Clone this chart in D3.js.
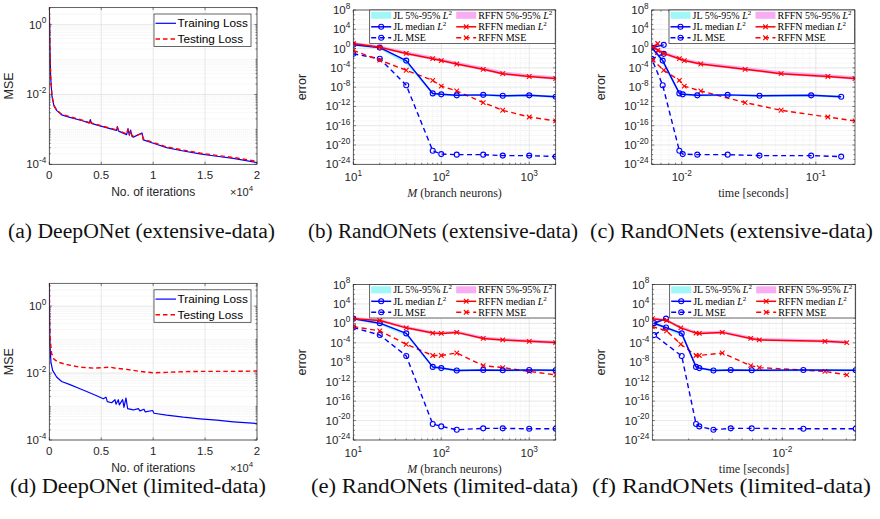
<!DOCTYPE html>
<html>
<head>
<meta charset="UTF-8">
<title>DeepONet vs RandONets</title>
<style>
  body { margin: 0; background: #fff; }
  text { font-family: "Liberation Sans", Arial, sans-serif; }
</style>
</head>
<body>
<script src="https://cdn.jsdelivr.net/npm/d3@7/dist/d3.min.js"></script>
<script>

// ---------- data ----------

// DeepONet loss curves (iterations, MSE)
var iterA = [0, 64, 128, 257, 449, 706, 1188, 1990, 3274, 3852, 3949, 4045, 4880, 5843, 6485, 6549, 6677, 7448, 7576, 7705, 7833, 7961, 8090, 8925, 9053, 10016, 11300, 12905, 14510, 16116, 17721, 20032];
var trainA = [3.0, 0.2, 0.032, 8.9e-3, 4.7e-3, 3.5e-3, 2.6e-3, 2.2e-3, 1.74e-3, 1.51e-3, 1.9e-3, 1.48e-3, 1.26e-3, 1.05e-3, 9.3e-4, 1.2e-3, 8.9e-4, 7.1e-4, 1.05e-3, 6.8e-4, 9.5e-4, 6.3e-4, 6.0e-4, 7.9e-4, 5.0e-4, 4.0e-4, 3.0e-4, 2.4e-4, 2.0e-4, 1.7e-4, 1.48e-4, 1.12e-4];
var testA = [3.0, 0.21, 0.034, 9.3e-3, 4.9e-3, 3.6e-3, 2.7e-3, 2.3e-3, 1.8e-3, 1.56e-3, 1.85e-3, 1.53e-3, 1.3e-3, 1.09e-3, 9.7e-4, 1.15e-3, 9.3e-4, 7.4e-4, 1.0e-3, 7.1e-4, 9.1e-4, 6.6e-4, 6.3e-4, 7.6e-4, 5.3e-4, 4.2e-4, 3.15e-4, 2.55e-4, 2.1e-4, 1.8e-4, 1.57e-4, 1.2e-4];

var iterDTrain = [0, 32, 64, 160, 321, 706, 1188, 1990, 2953, 3596, 4559, 5201, 5457, 5586, 6003, 6324, 6421, 6645, 6742, 7063, 7191, 7384, 7544, 8090, 8571, 8732, 9117, 9246, 9952, 10080, 11300, 12905, 14510, 16116, 17721, 20032];
var trainD = [4.7, 0.33, 0.068, 0.021, 0.012, 7.6e-3, 5.6e-3, 4.5e-3, 3.4e-3, 2.8e-3, 2.1e-3, 1.7e-3, 1.9e-3, 1.4e-3, 1.3e-3, 1.6e-3, 1.17e-3, 1.6e-3, 1.12e-3, 1.6e-3, 9.5e-4, 1.8e-3, 8.7e-4, 7.9e-4, 8.7e-4, 7.4e-4, 8.3e-4, 6.9e-4, 7.6e-4, 6.3e-4, 5.5e-4, 4.8e-4, 4.3e-4, 3.9e-4, 3.5e-4, 3.1e-4];
var iterDTest = [0, 32, 96, 224, 449, 867, 1669, 2953, 4238, 5201, 5843, 6485, 7448, 8732, 10016, 11300, 12905, 14510, 17721, 20032];
var testD = [4.7, 0.33, 0.095, 0.038, 0.026, 0.021, 0.018, 0.015, 0.014, 0.0145, 0.015, 0.0138, 0.0129, 0.0112, 0.0102, 0.0105, 0.011, 0.0112, 0.0112, 0.0115];

// RandONets: number of branch neurons
var mNeurons = [10, 20, 40, 80, 100, 150, 300, 500, 1000, 2000];

// extensive-data errors
var extJLMedian = [5.9, 1.6, 3.2e-3, 5e-10, 3.2e-10, 2e-10, 2.5e-10, 1.6e-10, 2e-10, 1e-10];
var extJLLow    = [3.5, 0.7, 6e-4, 2.5e-10, 1.8e-10, 1.1e-10, 1.4e-10, 9e-11, 1.1e-10, 5.5e-11];
var extJLHigh   = [8, 2.4, 5e-3, 8e-10, 5e-10, 3.3e-10, 4e-10, 2.8e-10, 3.4e-10, 1.8e-10];
var extJLMse    = [0.08, 8e-3, 2.5e-8, 6.3e-22, 1.3e-22, 1e-22, 1e-22, 6.3e-23, 6.3e-23, 4e-23];
var extRFMedian = [11, 1.9, 0.1, 8e-3, 3.2e-3, 6.3e-4, 5e-5, 6.3e-6, 1.6e-6, 6.3e-7];
var extRFLow    = [6, 1.1, 0.055, 4.5e-3, 1.8e-3, 3.5e-4, 2.8e-5, 3.5e-6, 9e-7, 3.5e-7];
var extRFHigh   = [24, 4.5, 0.28, 2.2e-2, 9e-3, 1.8e-3, 1.5e-4, 1.9e-5, 4.8e-6, 1.9e-6];
var extRFMse    = [0.4, 4e-3, 3.2e-5, 2.5e-7, 1.6e-8, 1.6e-9, 6.3e-12, 1.6e-13, 6.3e-15, 1e-15];
var extJLTime   = [0.00734, 0.00597, 0.00721, 0.0096, 0.01017, 0.01306, 0.0220, 0.0380, 0.0923, 0.1546];
var extRFTime   = [0.00662, 0.00611, 0.00734, 0.0096, 0.01045, 0.01387, 0.0297, 0.0551, 0.123, 0.196];

// limited-data errors
var limJLMedian = [9.3, 1.1, 8.7e-3, 1.1e-9, 6.3e-10, 2e-10, 2.5e-10, 2.2e-10, 2.5e-10, 2.2e-10];
var limJLLow    = [5.5, 0.5, 2.5e-3, 5e-10, 3.5e-10, 1.1e-10, 1.4e-10, 1.2e-10, 1.4e-10, 1.2e-10];
var limJLHigh   = [13, 2.2, 1.4e-2, 1.8e-9, 1e-9, 3.5e-10, 4e-10, 3.8e-10, 4e-10, 3.8e-10];
var limJLMse    = [0.14, 4e-3, 2e-7, 2e-21, 6.3e-22, 1.3e-22, 2.5e-22, 2.5e-22, 2e-22, 2e-22];
var limRFMedian = [9.3, 4, 0.12, 0.01, 8.7e-3, 1.4e-2, 8e-4, 4e-4, 2e-4, 1.1e-4];
var limRFLow    = [5.5, 2.3, 0.07, 5.5e-3, 5e-3, 8e-3, 4.5e-4, 2.3e-4, 1.1e-4, 6e-5];
var limRFHigh   = [20, 8, 0.3, 2.4e-2, 2.1e-2, 3.4e-2, 1.9e-3, 9.5e-4, 4.8e-4, 2.6e-4];
var limRFMse    = [0.22, 0.028, 5e-5, 2.5e-7, 2.5e-7, 8e-7, 2e-9, 8e-10, 1.3e-10, 2.5e-11];
var limJLTime   = [0.001355, 0.001104, 0.001774, 0.00227, 0.0024, 0.00306, 0.00412, 0.00591, 0.01436, 0.0353];
var limRFTime   = [0.00107, 0.00137, 0.001746, 0.00227, 0.0024, 0.00356, 0.00581, 0.00673, 0.0208, 0.0303];

var lossTicksX = [0, 0.5, 1, 1.5, 2];
var lossTicksY = [-4, -2, 0];
var errTicksY = [-24, -20, -16, -12, -8, -4, 0, 4, 8];

var captions = [
  "(a)  DeepONet (extensive-data)", "(b)  RandONets (extensive-data)", "(c)  RandONets (extensive-data)",
  "(d)  DeepONet (limited-data)", "(e)  RandONets (limited-data)", "(f)  RandONets (limited-data)"
];

// ---------- drawing ----------

var svg = d3.select("body").append("svg")
  .attr("width", 880)
  .attr("height", 519);

var axisColor = "#262626";
var blue = "#0000ff", red = "#ff0000";
var clipId = 0;

function supText(g, x, y, base, exp, size, anchor, family) {
  var t = g.append("text")
    .attr("x", x).attr("y", y)
    .attr("font-size", size)
    .attr("text-anchor", anchor)
    .attr("fill", axisColor);
  if (family) t.style("font-family", family);
  t.append("tspan").text(base);
  t.append("tspan").attr("dy", -size * 0.45).attr("font-size", size * 0.72).text(exp);
  return t;
}

function logMinors(dom, majors) {
  var out = [];
  var lo = Math.floor(Math.log10(dom[0])), hi = Math.ceil(Math.log10(dom[1]));
  for (var e = lo; e <= hi; e++) {
    for (var k = 1; k <= 9; k++) {
      var v = k * Math.pow(10, e);
      if (v >= dom[0] * 0.9999 && v <= dom[1] * 1.0001 && majors.indexOf(v) < 0) out.push(v);
    }
  }
  return out;
}

function decadeMinors(dom, majorExps) {
  var out = [];
  for (var e = Math.ceil(Math.log10(dom[0])); e <= Math.floor(Math.log10(dom[1])); e++) {
    if (majorExps.indexOf(e) < 0) out.push(Math.pow(10, e));
  }
  return out;
}

function makeAxes(p) {
  var g = svg.append("g");
  var x = (p.xlog ? d3.scaleLog() : d3.scaleLinear()).domain(p.xdom).range([p.x0, p.x1]);
  var y = d3.scaleLog().domain(p.ydom).range([p.y1, p.y0]);

  g.append("rect").attr("x", p.x0).attr("y", p.y0)
    .attr("width", p.x1 - p.x0).attr("height", p.y1 - p.y0).attr("fill", "#fff");

  // minor grid
  p.yMinor.forEach(function(v) {
    g.append("line").attr("x1", p.x0).attr("x2", p.x1).attr("y1", y(v)).attr("y2", y(v))
      .attr("stroke", "#e4e4e4").attr("stroke-width", 0.6).attr("stroke-dasharray", "1,1");
  });
  p.xMinor.forEach(function(v) {
    g.append("line").attr("y1", p.y0).attr("y2", p.y1).attr("x1", x(v)).attr("x2", x(v))
      .attr("stroke", "#e4e4e4").attr("stroke-width", 0.6).attr("stroke-dasharray", "1,1");
  });
  // major grid
  p.yMajor.forEach(function(v) {
    g.append("line").attr("x1", p.x0).attr("x2", p.x1).attr("y1", y(v)).attr("y2", y(v))
      .attr("stroke", "#dcdcdc").attr("stroke-width", 0.7);
  });
  p.xMajor.forEach(function(v) {
    g.append("line").attr("y1", p.y0).attr("y2", p.y1).attr("x1", x(v)).attr("x2", x(v))
      .attr("stroke", "#dcdcdc").attr("stroke-width", 0.7);
  });

  clipId++;
  svg.append("clipPath").attr("id", "clip" + clipId).append("rect")
    .attr("x", p.x0).attr("y", p.y0).attr("width", p.x1 - p.x0).attr("height", p.y1 - p.y0);
  var plot = g.append("g").attr("clip-path", "url(#clip" + clipId + ")");

  var frame = g.append("g");
  function drawFrame() {
    // ticks on all four sides, pointing in
    var tk = frame.append("g").attr("stroke", axisColor).attr("stroke-width", 0.6);
    p.xMajor.forEach(function(v) {
      tk.append("line").attr("x1", x(v)).attr("x2", x(v)).attr("y1", p.y1).attr("y2", p.y1 - 2.6);
      tk.append("line").attr("x1", x(v)).attr("x2", x(v)).attr("y1", p.y0).attr("y2", p.y0 + 2.6);
    });
    p.xMinorTicks.forEach(function(v) {
      tk.append("line").attr("x1", x(v)).attr("x2", x(v)).attr("y1", p.y1).attr("y2", p.y1 - 1.5);
      tk.append("line").attr("x1", x(v)).attr("x2", x(v)).attr("y1", p.y0).attr("y2", p.y0 + 1.5);
    });
    p.yMajor.forEach(function(v) {
      tk.append("line").attr("y1", y(v)).attr("y2", y(v)).attr("x1", p.x0).attr("x2", p.x0 + 2.6);
      tk.append("line").attr("y1", y(v)).attr("y2", y(v)).attr("x1", p.x1).attr("x2", p.x1 - 2.6);
    });
    p.yMinorTicks.forEach(function(v) {
      tk.append("line").attr("y1", y(v)).attr("y2", y(v)).attr("x1", p.x0).attr("x2", p.x0 + 1.5);
      tk.append("line").attr("y1", y(v)).attr("y2", y(v)).attr("x1", p.x1).attr("x2", p.x1 - 1.5);
    });
    frame.append("rect").attr("x", p.x0).attr("y", p.y0)
      .attr("width", p.x1 - p.x0).attr("height", p.y1 - p.y0)
      .attr("fill", "none").attr("stroke", axisColor).attr("stroke-width", 0.7);

    // y tick labels
    p.yMajor.forEach(function(v) {
      supText(frame, p.x0 - 3, y(v) + 4, "10", String(Math.round(Math.log10(v))), 11.5, "end");
    });
  }
  return { g: g, plot: plot, frame: frame, x: x, y: y, drawFrame: drawFrame };
}

function line(ax, xs, ys, color, width, dash) {
  var pts = xs.map(function(d, i) { return [ax.x(d), ax.y(ys[i])]; });
  ax.plot.append("path")
    .attr("d", d3.line()(pts))
    .attr("fill", "none")
    .attr("stroke", color)
    .attr("stroke-width", width)
    .attr("stroke-linejoin", "round")
    .attr("stroke-dasharray", dash || null);
}

function band(ax, xs, lo, hi, color) {
  var area = d3.area()
    .x(function(d) { return ax.x(d.x); })
    .y0(function(d) { return ax.y(d.lo); })
    .y1(function(d) { return ax.y(d.hi); });
  var data = xs.map(function(d, i) { return { x: d, lo: lo[i], hi: hi[i] }; });
  ax.plot.append("path").attr("d", area(data)).attr("fill", color).attr("fill-opacity", 0.75);
}

function markers(ax, xs, ys, kind, color) {
  xs.forEach(function(d, i) {
    drawMarker(ax.plot, ax.x(d), ax.y(ys[i]), kind, color);
  });
}

function drawMarker(g, cx, cy, kind, color) {
  if (kind === "o") {
    g.append("circle").attr("cx", cx).attr("cy", cy).attr("r", 2.5)
      .attr("fill", "none").attr("stroke", color).attr("stroke-width", 1.1);
  } else {
    var s = 2.3;
    g.append("path")
      .attr("d", "M" + (cx - s) + "," + (cy - s) + "L" + (cx + s) + "," + (cy + s) +
                 "M" + (cx - s) + "," + (cy + s) + "L" + (cx + s) + "," + (cy - s))
      .attr("stroke", color).attr("stroke-width", 1.1);
  }
}

// ---------- DeepONet loss panels ----------

function lossPanel(opt) {
  var ydom = [1e-4, opt.ymax];
  var majors = lossTicksY.map(function(e) { return Math.pow(10, e); });
  var ax = makeAxes({
    x0: opt.x0, x1: opt.x1, y0: opt.y0, y1: opt.y1,
    xlog: false, xdom: [0, 20000], ydom: ydom,
    xMajor: lossTicksX.map(function(v) { return v * 1e4; }), xMinor: [], xMinorTicks: [],
    yMajor: majors, yMinor: logMinors(ydom, majors), yMinorTicks: logMinors(ydom, majors)
  });
  line(ax, opt.trainX, opt.train, blue, 1.2);
  line(ax, opt.testX, opt.test, red, 1.4, "4.5,3");
  ax.drawFrame();

  lossTicksX.forEach(function(v) {
    ax.frame.append("text").attr("x", ax.x(v * 1e4)).attr("y", opt.y1 + 15)
      .attr("text-anchor", "middle").attr("font-size", 11.5).attr("fill", axisColor).text(v);
  });
  ax.frame.append("text").attr("x", (opt.x0 + opt.x1) / 2).attr("y", opt.y1 + 32)
    .attr("text-anchor", "middle").attr("font-size", 12).attr("fill", axisColor).text("No. of iterations");
  supText(ax.frame, opt.x1 - 27, opt.y1 + 32, "\u00d710", "4", 11, "start");
  ax.frame.append("text")
    .attr("transform", "translate(" + (opt.x0 - 36) + "," + ((opt.y0 + opt.y1) / 2) + ") rotate(-90)")
    .attr("text-anchor", "middle").attr("font-size", 12.5).attr("fill", axisColor).text("MSE");

  // legend
  var lg = ax.frame.append("g");
  var lx = opt.x1 - 103, ly = opt.y0 + 6.5;
  lg.append("rect").attr("x", lx).attr("y", ly).attr("width", 97).attr("height", 32.5)
    .attr("fill", "#fff").attr("stroke", axisColor).attr("stroke-width", 0.7);
  lg.append("line").attr("x1", lx + 1.5).attr("x2", lx + 22).attr("y1", ly + 9.3).attr("y2", ly + 9.3)
    .attr("stroke", blue).attr("stroke-width", 1.2);
  lg.append("line").attr("x1", lx + 1.5).attr("x2", lx + 22).attr("y1", ly + 25).attr("y2", ly + 25)
    .attr("stroke", red).attr("stroke-width", 1.4).attr("stroke-dasharray", "4.5,3");
  lg.append("text").attr("x", lx + 23.5).attr("y", ly + 13.3).attr("font-size", 11.8).attr("fill", "#000").text("Training Loss");
  lg.append("text").attr("x", lx + 23.5).attr("y", ly + 29).attr("font-size", 11.8).attr("fill", "#000").text("Testing Loss");
}

// ---------- RandONets panels ----------

var cyanFill = "#80f4f4", magFill = "#f590ee";
var serif = "'Liberation Serif', 'DejaVu Serif', serif";

function errPanel(opt) {
  var ydom = [1e-24, 1e8];
  var yMaj = errTicksY.map(function(e) { return Math.pow(10, e); });
  var xMaj = opt.xTicks.map(function(e) { return Math.pow(10, e); });
  var ax = makeAxes({
    x0: opt.x0, x1: opt.x1, y0: opt.y0, y1: opt.y1,
    xlog: true, xdom: opt.xdom, ydom: ydom,
    xMajor: xMaj, xMinor: logMinors(opt.xdom, xMaj), xMinorTicks: logMinors(opt.xdom, xMaj),
    yMajor: yMaj, yMinor: decadeMinors(ydom, errTicksY), yMinorTicks: decadeMinors(ydom, errTicksY)
  });

  band(ax, opt.jlX, opt.jlLow, opt.jlHigh, cyanFill);
  band(ax, opt.rfX, opt.rfLow, opt.rfHigh, magFill);
  line(ax, opt.jlX, opt.jlMse, blue, 1.4, "5,3.5");
  markers(ax, opt.jlX, opt.jlMse, "o", blue);
  line(ax, opt.rfX, opt.rfMse, red, 1.4, "5,3.5");
  markers(ax, opt.rfX, opt.rfMse, "x", red);
  line(ax, opt.jlX, opt.jlMedian, blue, 1.5);
  markers(ax, opt.jlX, opt.jlMedian, "o", blue);
  line(ax, opt.rfX, opt.rfMedian, red, 1.5);
  markers(ax, opt.rfX, opt.rfMedian, "x", red);
  ax.drawFrame();

  opt.xTicks.forEach(function(e) {
    supText(ax.frame, ax.x(Math.pow(10, e)), opt.y1 + 17, "10", String(e), 11.5, "middle");
  });
  ax.frame.append("text")
    .attr("transform", "translate(" + (opt.x0 - 47) + "," + ((opt.y0 + opt.y1) / 2) + ") rotate(-90)")
    .attr("text-anchor", "middle").attr("font-size", 12.5).attr("fill", axisColor).text("error");

  var xl = ax.frame.append("text").attr("x", (opt.x0 + opt.x1) / 2).attr("y", opt.y1 + 33)
    .attr("text-anchor", "middle").attr("font-size", 12).attr("fill", axisColor)
    .style("font-family", serif);
  if (opt.xlabelItalic) xl.append("tspan").attr("font-style", "italic").text(opt.xlabelItalic);
  xl.append("tspan").text(opt.xlabel);

  // legend
  var lg = ax.frame.append("g");
  var lx = opt.x1 - 186, ly = opt.y0;
  lg.append("rect").attr("x", lx).attr("y", ly).attr("width", 185.5).attr("height", 33.5)
    .attr("fill", "#fff").attr("stroke", axisColor).attr("stroke-width", 0.7);
  var rows = [ly + 5.3, ly + 16.8, ly + 27.8];
  var cols = [lx + 1.5, lx + 86.5];
  function legText(cx, cy, main, withL) {
    var t = lg.append("text").attr("x", cx + 22).attr("y", cy + 3.5).attr("font-size", 10)
      .attr("fill", "#000").style("font-family", serif);
    t.append("tspan").text(main);
    if (withL) {
      t.append("tspan").attr("font-style", "italic").text("L");
      t.append("tspan").attr("dy", -4).attr("font-size", 7).text("2");
    }
  }
  lg.append("rect").attr("x", cols[0]).attr("y", rows[0] - 3.5).attr("width", 20).attr("height", 7)
    .attr("fill", cyanFill).attr("fill-opacity", 0.75);
  lg.append("rect").attr("x", cols[1]).attr("y", rows[0] - 3.5).attr("width", 20).attr("height", 7)
    .attr("fill", magFill).attr("fill-opacity", 0.75);
  legText(cols[0], rows[0], "JL 5%-95% ", true);
  legText(cols[1], rows[0], "RFFN 5%-95% ", true);

  lg.append("line").attr("x1", cols[0]).attr("x2", cols[0] + 20).attr("y1", rows[1]).attr("y2", rows[1])
    .attr("stroke", blue).attr("stroke-width", 1.5);
  drawMarker(lg, cols[0] + 10, rows[1], "o", blue);
  legText(cols[0], rows[1], "JL median ", true);
  lg.append("line").attr("x1", cols[1]).attr("x2", cols[1] + 20).attr("y1", rows[1]).attr("y2", rows[1])
    .attr("stroke", red).attr("stroke-width", 1.5);
  drawMarker(lg, cols[1] + 10, rows[1], "x", red);
  legText(cols[1], rows[1], "RFFN median ", true);

  lg.append("line").attr("x1", cols[0]).attr("x2", cols[0] + 20).attr("y1", rows[2]).attr("y2", rows[2])
    .attr("stroke", blue).attr("stroke-width", 1.4).attr("stroke-dasharray", "5,3.5");
  drawMarker(lg, cols[0] + 10, rows[2], "o", blue);
  legText(cols[0], rows[2], "JL MSE", false);
  lg.append("line").attr("x1", cols[1]).attr("x2", cols[1] + 20).attr("y1", rows[2]).attr("y2", rows[2])
    .attr("stroke", red).attr("stroke-width", 1.4).attr("stroke-dasharray", "5,3.5");
  drawMarker(lg, cols[1] + 10, rows[2], "x", red);
  legText(cols[1], rows[2], "RFFN MSE", false);
}

// ---------- panels ----------

lossPanel({ x0: 49.3, x1: 257, y0: 7.5, y1: 164.3, ymax: 3.1,
  trainX: iterA, train: trainA, testX: iterA, test: testA });
lossPanel({ x0: 49.3, x1: 257, y0: 283.3, y1: 440, ymax: 4.8,
  trainX: iterDTrain, train: trainD, testX: iterDTest, test: testD });

errPanel({ x0: 353.3, x1: 555.7, y0: 10, y1: 164.3, xdom: [10, 2000], xTicks: [1, 2, 3],
  xlabelItalic: "M", xlabel: " (branch neurons)",
  jlX: mNeurons, rfX: mNeurons,
  jlMedian: extJLMedian, jlLow: extJLLow, jlHigh: extJLHigh, jlMse: extJLMse,
  rfMedian: extRFMedian, rfLow: extRFLow, rfHigh: extRFHigh, rfMse: extRFMse });
errPanel({ x0: 651.7, x1: 855, y0: 10, y1: 164.3, xdom: [0.00597, 0.196], xTicks: [-2, -1],
  xlabel: "time [seconds]",
  jlX: extJLTime, rfX: extRFTime,
  jlMedian: extJLMedian, jlLow: extJLLow, jlHigh: extJLHigh, jlMse: extJLMse,
  rfMedian: extRFMedian, rfLow: extRFLow, rfHigh: extRFHigh, rfMse: extRFMse });
errPanel({ x0: 353.3, x1: 555.7, y0: 284.5, y1: 440, xdom: [10, 2000], xTicks: [1, 2, 3],
  xlabelItalic: "M", xlabel: " (branch neurons)",
  jlX: mNeurons, rfX: mNeurons,
  jlMedian: limJLMedian, jlLow: limJLLow, jlHigh: limJLHigh, jlMse: limJLMse,
  rfMedian: limRFMedian, rfLow: limRFLow, rfHigh: limRFHigh, rfMse: limRFMse });
errPanel({ x0: 652.3, x1: 855.7, y0: 284.5, y1: 440, xdom: [0.00107, 0.0353], xTicks: [-2],
  xlabel: "time [seconds]",
  jlX: limJLTime, rfX: limRFTime,
  jlMedian: limJLMedian, jlLow: limJLLow, jlHigh: limJLHigh, jlMse: limJLMse,
  rfMedian: limRFMedian, rfLow: limRFLow, rfHigh: limRFHigh, rfMse: limRFMse });

// ---------- captions ----------
var capPos = [[8, 238, 267], [308, 238, 270], [590, 238, 283], [10, 493, 256], [311, 493, 267], [592, 493, 279]];
captions.forEach(function(c, i) {
  svg.append("text")
    .attr("x", capPos[i][0]).attr("y", capPos[i][1])
    .attr("textLength", capPos[i][2]).attr("lengthAdjust", "spacingAndGlyphs")
    .attr("font-size", 20.5).attr("fill", "#111")
    .style("font-family", "'Liberation Serif', 'Times New Roman', serif")
    .text(c);
});

</script>
</body>
</html>
